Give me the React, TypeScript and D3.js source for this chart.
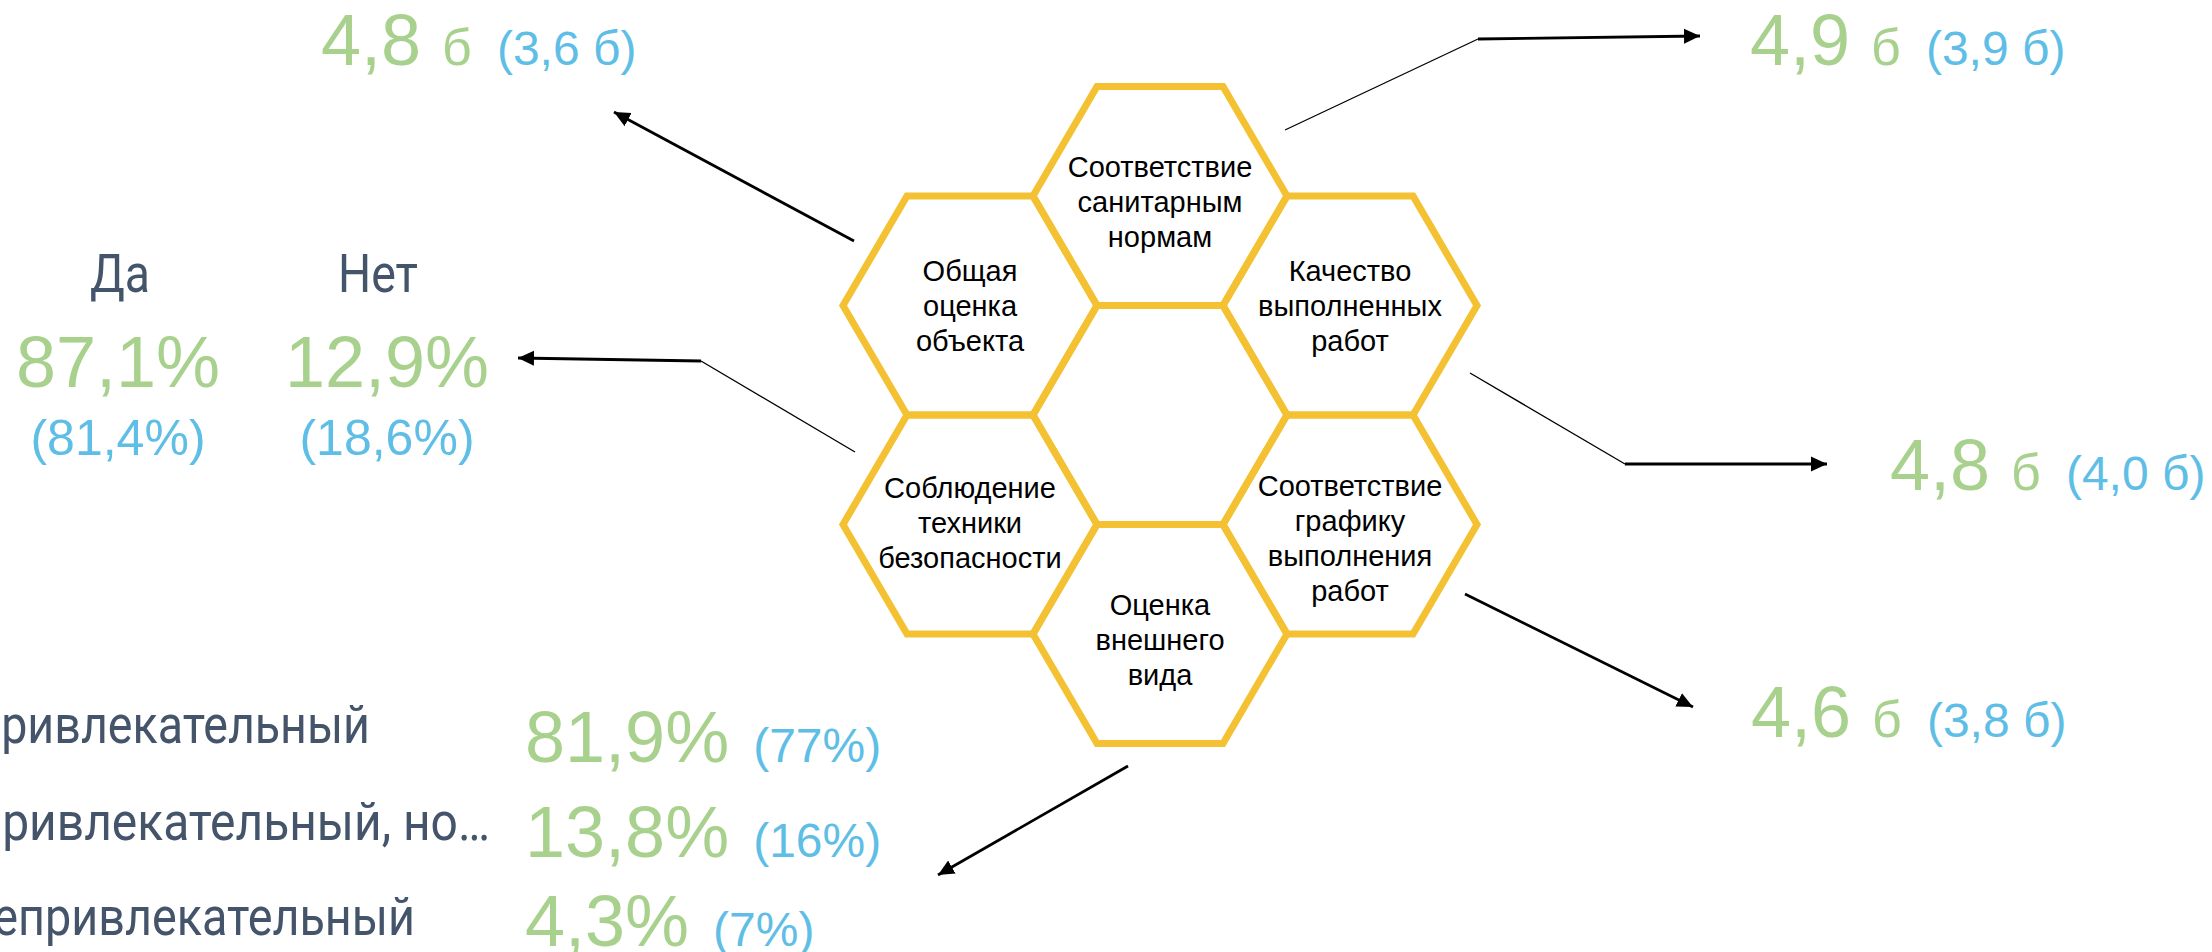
import React from "react";
import * as d3 from "d3";

const W = 2212;
const H = 952;

// соты: подписи, колонка и ряд (ряд в полушагах)
const hexLabels = [
  ["Соответствие", "санитарным", "нормам"],
  ["Общая", "оценка", "объекта"],
  ["Качество", "выполненных", "работ"],
  [],
  ["Соблюдение", "техники", "безопасности"],
  ["Соответствие", "графику", "выполнения", "работ"],
  ["Оценка", "внешнего", "вида"],
];
const hexCol = [0, -1, 1, 0, -1, 1, 0];
const hexRow = [0, 1, 1, 2, 3, 3, 4];

// средний балл: сейчас и (в прошлый раз)
const scoreNow = [4.8, 4.9, 4.8, 4.6];
const scorePrev = [3.6, 3.9, 4.0, 3.8];

// соблюдение техники безопасности
const yesNo = ["Да", "Нет"];
const yesNoNow = [87.1, 12.9];
const yesNoPrev = [81.4, 18.6];

// оценка внешнего вида
const looks = ["Привлекательный", "Привлекательный, но…", "Непривлекательный"];
const looksNow = [81.9, 13.8, 4.3];
const looksPrev = [77, 16, 7];

// раскладка
const hexTextDy = [-19, -25, -25, 0, -27, -29, -19];
const scorePos = [
  [321, 65],
  [1750, 65],
  [1890, 490],
  [1751, 737],
];
const yesNoLabelPos = [
  [90, 60],
  [338, 80],
];
const yesNoX = [118, 387];
const looksLabelPos = [
  [-32, 402, 743],
  [-32, 522, 840],
  [-40, 455, 935],
];
const looksY = [762, 857, 946];

type Pt = [number, number];
const arrows: { thin?: Pt[]; thick: Pt[] }[] = [
  { thick: [[854, 241], [614, 112]] },
  { thin: [[1285, 130], [1478, 39]], thick: [[1478, 39], [1700, 36]] },
  { thin: [[855, 452], [701, 361]], thick: [[701, 361], [518, 358]] },
  { thin: [[1470, 373], [1625, 464]], thick: [[1625, 464], [1827, 464]] },
  { thick: [[1465, 594], [1693, 707]] },
  { thick: [[1128, 766], [938, 875]] },
];

const GREEN = "#A9D18E";
const BLUE = "#5FBEE6";
const SLATE = "#44546A";
const GOLD = "#F4C132";
const ARIAL = "'Liberation Sans', Arial, sans-serif";
const NARROW = "'Liberation Sans Narrow', Roboto, sans-serif";

const ru = d3.formatLocale({
  decimal: ",",
  thousands: "\u00a0",
  grouping: [3],
  currency: ["", " ₽"],
});
const f1 = ru.format(".1f");
const f0 = ru.format(".0f");

export default function App() {
  const x = d3.scaleLinear().domain([-1, 1]).range([970, 1350]);
  const y = d3.scaleLinear().domain([0, 4]).range([196, 634]);

  const R = 127;
  const a = 63;
  const h = 109.5;
  const hexPts: Pt[] = [
    [-R, 0],
    [-a, -h],
    [a, -h],
    [R, 0],
    [a, h],
    [-a, h],
  ];
  const hexPath = d3.line().curve(d3.curveLinearClosed)(hexPts) as string;
  const line = d3.line();

  return (
    <svg
      width={W}
      height={H}
      style={{ position: "absolute", left: 0, top: 0, background: "#fff" }}
    >
      <defs>
        <marker
          id="head"
          viewBox="0 -8 17 16"
          refX={16}
          refY={0}
          markerWidth={17}
          markerHeight={16}
          markerUnits="userSpaceOnUse"
          orient="auto"
        >
          <path d="M0,-7.5L16,0L0,7.5Z" fill="#000" />
        </marker>
      </defs>

      {hexLabels.map((lines, i) => (
        <g key={i} transform={`translate(${x(hexCol[i])},${y(hexRow[i])})`}>
          <path d={hexPath} fill="none" stroke={GOLD} strokeWidth={7} strokeLinejoin="miter" />
          <text
            textAnchor="middle"
            fontFamily={ARIAL}
            fontSize={29}
            fill="#000"
          >
            {lines.map((t, j) => (
              <tspan key={j} x={0} y={hexTextDy[i] + j * 35}>
                {t}
              </tspan>
            ))}
          </text>
        </g>
      ))}

      {arrows.map((ar, i) => (
        <g key={i} fill="none" stroke="#000">
          {ar.thin && <path d={line(ar.thin) as string} strokeWidth={1.3} />}
          <path d={line(ar.thick) as string} strokeWidth={2.8} markerEnd="url(#head)" />
        </g>
      ))}

      {scoreNow.map((v, i) => (
        <text key={i} x={scorePos[i][0]} y={scorePos[i][1]} fontFamily={ARIAL}>
          <tspan fontSize={72} fill={GREEN}>{f1(v)}</tspan>
          <tspan dx={21} fontSize={52} fill={GREEN}>б</tspan>
          <tspan dx={25} fontSize={48} fill={BLUE}>{`(${f1(scorePrev[i])} б)`}</tspan>
        </text>
      ))}

      {yesNo.map((lbl, i) => (
        <g key={i}>
          <text
            x={yesNoLabelPos[i][0]}
            y={292}
            fontFamily={NARROW}
            fontSize={54}
            fill={SLATE}
            textLength={yesNoLabelPos[i][1]}
            lengthAdjust="spacingAndGlyphs"
          >
            {lbl}
          </text>
          <text x={yesNoX[i]} y={387} textAnchor="middle" fontFamily={ARIAL} fontSize={72} fill={GREEN}>
            {f1(yesNoNow[i]) + "%"}
          </text>
          <text x={yesNoX[i]} y={455} textAnchor="middle" fontFamily={ARIAL} fontSize={50} fill={BLUE}>
            {`(${f1(yesNoPrev[i])}%)`}
          </text>
        </g>
      ))}

      {looks.map((lbl, i) => (
        <g key={i}>
          <text
            x={looksLabelPos[i][0]}
            y={looksLabelPos[i][2]}
            fontFamily={NARROW}
            fontSize={53}
            fill={SLATE}
            textLength={looksLabelPos[i][1]}
            lengthAdjust="spacingAndGlyphs"
          >
            {lbl}
          </text>
          <text x={525} y={looksY[i]} fontFamily={ARIAL}>
            <tspan fontSize={72} fill={GREEN}>{f1(looksNow[i]) + "%"}</tspan>
            <tspan dx={24} fontSize={48} fill={BLUE}>{`(${f0(looksPrev[i])}%)`}</tspan>
          </text>
        </g>
      ))}
    </svg>
  );
}
